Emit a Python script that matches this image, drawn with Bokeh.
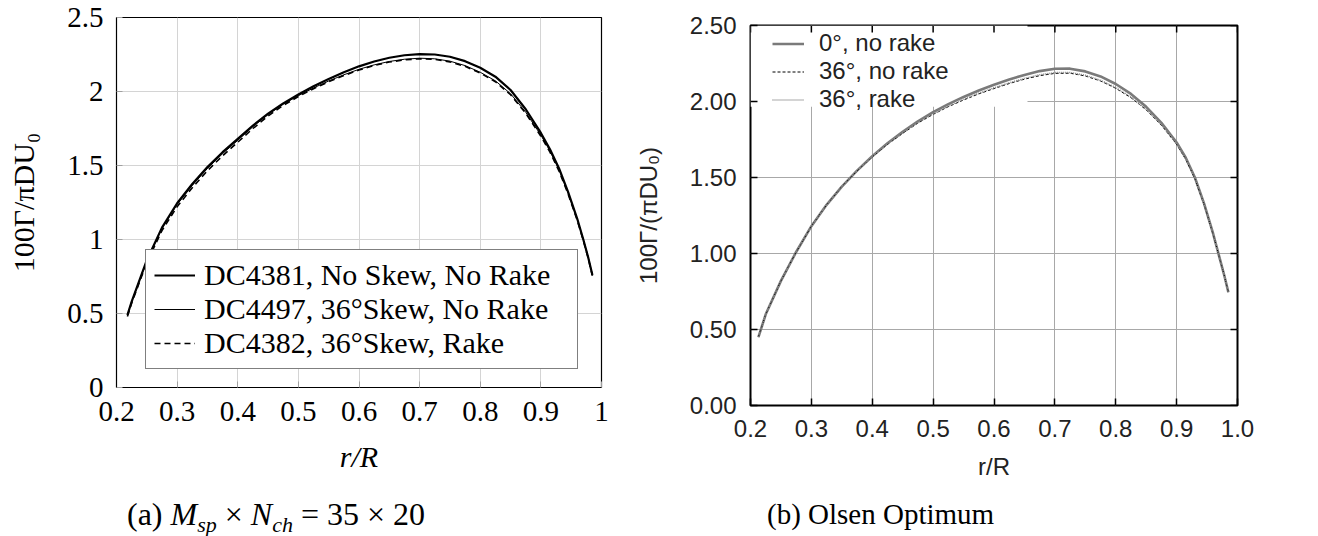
import math
from bokeh.plotting import figure
from bokeh.layouts import row, column
from bokeh.models import (Legend, LegendItem, FixedTicker, NumeralTickFormatter,
                          CustomJSTickFormatter, Range1d, Div, BoxAnnotation)
from bokeh.embed import file_html
from bokeh.resources import INLINE

# ---------------- data: (a) M_sp x N_ch = 35 x 20 ----------------
r_a = [0.218, 0.225, 0.25, 0.275, 0.30, 0.325, 0.35, 0.375, 0.40, 0.425, 0.45, 0.475,
       0.50, 0.525, 0.55, 0.575, 0.60, 0.625, 0.65, 0.675, 0.70, 0.725, 0.75, 0.775,
       0.80, 0.825, 0.85, 0.875, 0.90, 0.915, 0.93, 0.945, 0.96, 0.97, 0.978, 0.985]
dc4381 = [0.49, 0.58, 0.86, 1.08, 1.245, 1.375, 1.49, 1.59, 1.68, 1.77, 1.85, 1.92,
          1.98, 2.035, 2.085, 2.13, 2.17, 2.203, 2.228, 2.245, 2.253, 2.25, 2.235, 2.205,
          2.16, 2.10, 2.01, 1.88, 1.72, 1.61, 1.48, 1.32, 1.14, 1.00, 0.88, 0.76]
dc4497 = [0.49, 0.58, 0.86, 1.075, 1.237, 1.365, 1.48, 1.58, 1.67, 1.762, 1.844, 1.914,
          1.972, 2.024, 2.071, 2.113, 2.15, 2.18, 2.203, 2.218, 2.225, 2.221, 2.205, 2.175,
          2.13, 2.072, 1.985, 1.86, 1.705, 1.598, 1.47, 1.313, 1.136, 0.998, 0.88, 0.76]
dc4382 = [0.48, 0.57, 0.845, 1.06, 1.222, 1.35, 1.465, 1.566, 1.657, 1.75, 1.834, 1.906,
          1.966, 2.019, 2.066, 2.108, 2.145, 2.176, 2.199, 2.214, 2.221, 2.217, 2.20, 2.17,
          2.125, 2.066, 1.978, 1.853, 1.698, 1.59, 1.462, 1.306, 1.13, 0.993, 0.875, 0.755]
labels_a = ["DC4381, No Skew, No Rake", "DC4497, 36°Skew, No Rake", "DC4382, 36°Skew, Rake"]

# ---------------- data: (b) Olsen Optimum ----------------
r_b = [0.213, 0.225, 0.25, 0.275, 0.30, 0.325, 0.35, 0.375, 0.40, 0.425, 0.45, 0.475,
       0.50, 0.525, 0.55, 0.575, 0.60, 0.625, 0.65, 0.675, 0.70, 0.725, 0.75, 0.775,
       0.80, 0.825, 0.85, 0.875, 0.90, 0.915, 0.93, 0.945, 0.96, 0.97, 0.978, 0.985]
olsen_0_norake = [0.45, 0.60, 0.82, 1.01, 1.18, 1.32, 1.44, 1.545, 1.64, 1.725, 1.80, 1.87,
                  1.93, 1.983, 2.03, 2.072, 2.11, 2.145, 2.175, 2.20, 2.215, 2.216, 2.198, 2.165,
                  2.115, 2.05, 1.965, 1.86, 1.73, 1.63, 1.50, 1.33, 1.13, 0.98, 0.86, 0.745]
olsen_36_norake = [0.45, 0.60, 0.82, 1.01, 1.18, 1.32, 1.44, 1.542, 1.635, 1.718, 1.79, 1.858,
                   1.915, 1.966, 2.01, 2.05, 2.085, 2.118, 2.147, 2.17, 2.185, 2.186, 2.168, 2.135,
                   2.087, 2.025, 1.945, 1.844, 1.718, 1.62, 1.492, 1.324, 1.126, 0.978, 0.86, 0.745]
olsen_36_rake = [0.45, 0.60, 0.82, 1.01, 1.18, 1.32, 1.44, 1.543, 1.637, 1.72, 1.793, 1.861,
                 1.918, 1.97, 2.015, 2.055, 2.09, 2.123, 2.152, 2.176, 2.19, 2.191, 2.173, 2.14,
                 2.092, 2.03, 1.95, 1.848, 1.721, 1.622, 1.494, 1.325, 1.127, 0.979, 0.86, 0.745]
labels_b = ["0°, no rake", "36°, no rake", "36°, rake"]

x_ticks = [0.2, 0.3, 0.4, 0.5, 0.6, 0.7, 0.8, 0.9, 1.0]
y_ticks = [0.0, 0.5, 1.0, 1.5, 2.0, 2.5]

SERIF = "Liberation Serif"
SANS = "Liberation Sans"

# ================= left figure =================
p1 = figure(frame_width=485, frame_height=370, x_range=Range1d(0.2, 1.0), y_range=Range1d(0, 2.5),
            output_backend="svg", toolbar_location=None,
            min_border_left=116, min_border_right=17, min_border_top=17, min_border_bottom=93)
p1.outline_line_color = "black"
p1.outline_line_width = 1.2
p1.grid.grid_line_color = "#d4d4d4"
p1.grid.grid_line_width = 1
xa1 = p1.below[0]
ya1 = p1.left[0]
xa1.ticker = FixedTicker(ticks=x_ticks)
ya1.ticker = FixedTicker(ticks=y_ticks)
xa1.formatter = CustomJSTickFormatter(code="return String(tick);")
ya1.formatter = CustomJSTickFormatter(code="return String(tick);")
for ax in (xa1, ya1):
    ax.axis_line_color = "black"
    ax.major_tick_in = 6
    ax.major_tick_out = 0
    ax.major_tick_line_color = "#a0a0a0"
    ax.minor_tick_line_color = None
    ax.major_label_text_font = SERIF
    ax.major_label_text_font_size = "29px"
    ax.major_label_text_color = "black"
    ax.axis_label_text_font = SERIF
    ax.axis_label_text_font_size = "30px"
    ax.axis_label_text_color = "black"
xa1.axis_label = "r/R"
xa1.axis_label_text_font_style = "italic"
ya1.axis_label = "100Γ/πDU₀"
ya1.axis_label_text_font_style = "normal"
xa1.major_label_standoff = 14
ya1.major_label_standoff = 13
xa1.axis_label_standoff = 16
ya1.axis_label_standoff = 24

a1 = p1.line(r_a, dc4381, line_color="black", line_width=2.2)
a2 = p1.line(r_a, dc4497, line_color="black", line_width=1)
a3 = p1.line(r_a, dc4382, line_color="black", line_width=1.6, line_dash="6 4")
leg1 = Legend(items=[LegendItem(label=labels_a[0], renderers=[a1]),
                     LegendItem(label=labels_a[1], renderers=[a2]),
                     LegendItem(label=labels_a[2], renderers=[a3])],
              location=(29, 18), margin=0, padding=8, spacing=0,
              label_height=34, glyph_height=34, glyph_width=41, label_standoff=9, label_width=365,
              border_line_color="black", border_line_width=1,
              background_fill_color="white", background_fill_alpha=1,
              label_text_font=SERIF, label_text_font_size="30px", label_text_color="black")
p1.add_layout(leg1)

# ================= right figure =================
p2 = figure(frame_width=487, frame_height=380, x_range=Range1d(0.2, 1.0), y_range=Range1d(0, 2.5),
            output_backend="svg", toolbar_location=None,
            min_border_left=122, min_border_right=67, min_border_top=25, min_border_bottom=75)
p2.outline_line_color = "black"
p2.outline_line_width = 2
p2.grid.grid_line_color = "#a8a8a8"
p2.grid.grid_line_width = 1
xa2 = p2.below[0]
ya2 = p2.left[0]
xa2.ticker = FixedTicker(ticks=x_ticks)
ya2.ticker = FixedTicker(ticks=y_ticks)
xa2.formatter = NumeralTickFormatter(format="0.0")
ya2.formatter = NumeralTickFormatter(format="0.00")
for ax in (xa2, ya2):
    ax.axis_line_color = None
    ax.major_tick_in = 7
    ax.major_tick_out = 0
    ax.major_tick_line_color = "black"
    ax.major_tick_line_width = 1.5
    ax.minor_tick_line_color = None
    ax.major_label_text_font = SANS
    ax.major_label_text_font_size = "24px"
    ax.major_label_text_color = "#222222"
    ax.axis_label_text_font = SANS
    ax.axis_label_text_font_size = "24px"
    ax.axis_label_text_font_style = "normal"
    ax.axis_label_text_color = "#222222"
xa2.axis_label = "r/R"
ya2.axis_label = "100Γ/(πDU₀)"
xa2.major_label_standoff = 14
ya2.major_label_standoff = 14
xa2.axis_label_standoff = 13
ya2.axis_label_standoff = 25

# white key area (gnuplot draws the key box under the curves, hiding the grid)
p2.add_layout(BoxAnnotation(left=0.2, right=0.655, bottom=1.965, top=2.5, level="underlay",
                            fill_color="white", fill_alpha=1, line_color=None))

# inward ticks on the top and right edges
p2.ray(x=x_ticks, y=[2.5] * len(x_ticks), length=7, length_units="screen",
       angle=-math.pi / 2, line_color="black", line_width=1.5)
p2.ray(x=[1.0] * len(y_ticks), y=y_ticks, length=7, length_units="screen",
       angle=math.pi, line_color="black", line_width=1.5)

b1 = p2.line(r_b, olsen_0_norake, line_color="#7a7a7a", line_width=2.6)
b2 = p2.line(r_b, olsen_36_norake, line_color="black", line_width=1, line_dash="3 2")
b3 = p2.line(r_b, olsen_36_rake, line_color="#8c8c8c", line_width=1.5, line_dash="1 1")
leg2 = Legend(items=[LegendItem(label=labels_b[0], renderers=[b1]),
                     LegendItem(label=labels_b[1], renderers=[b2]),
                     LegendItem(label=labels_b[2], renderers=[b3])],
              location=(22, 292), margin=0, padding=3, spacing=0,
              label_height=25, glyph_height=25, glyph_width=32, label_standoff=15,
              border_line_color=None, background_fill_alpha=0,
              label_text_font=SANS, label_text_font_size="24px", label_text_color="#222222")
p2.add_layout(leg2)

# ================= captions =================
cap_a = Div(text=('<div style="font-family:\'Liberation Serif\'; font-size:32px; line-height:40px; '
                  'padding-left:122px; padding-top:9px; white-space:nowrap; color:black">'
                  '(a) <i>M</i><sub style="font-size:22px; line-height:0"><i>sp</i></sub> × '
                  '<i>N</i><sub style="font-size:22px; line-height:0"><i>ch</i></sub> = 35 × 20</div>'),
            width=618, height=48)
cap_b = Div(text=('<div style="font-family:\'Liberation Serif\'; font-size:29px; line-height:40px; '
                  'padding-left:134px; padding-top:7px; white-space:nowrap; color:black">'
                  '(b) Olsen Optimum</div>'),
            width=676, height=48)

layout = row(column(p1, cap_a), column(p2, cap_b))
open("out.html", "w").write(file_html(layout, INLINE))
